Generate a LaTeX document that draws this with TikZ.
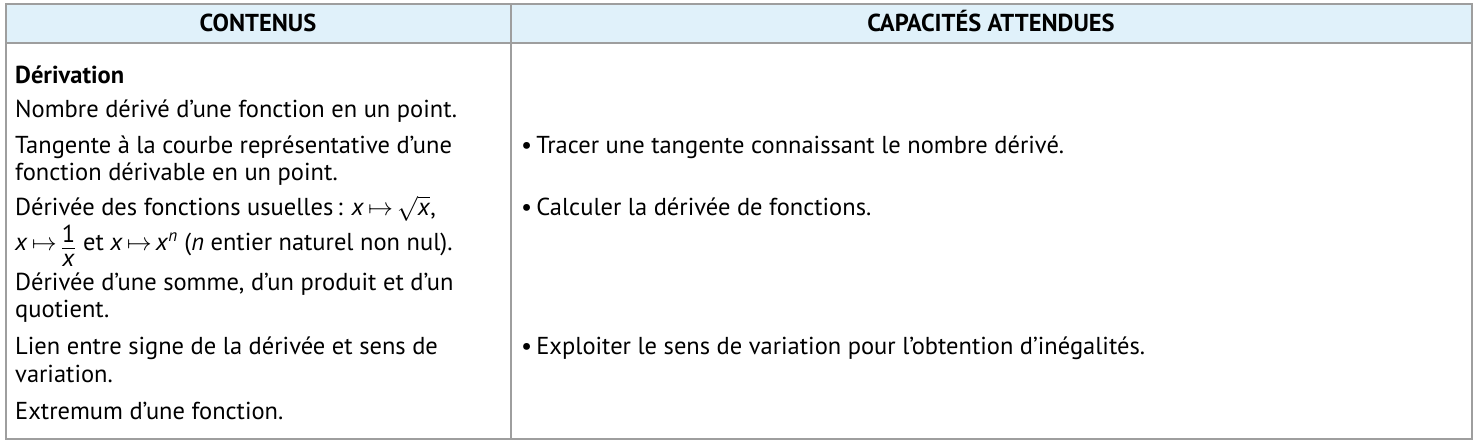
\documentclass[tikz,border=0pt]{standalone}
\usepackage{fontspec}
\setmainfont{PT Sans}
\definecolor{rule}{RGB}{158,158,158}
\definecolor{headfill}{RGB}{224,241,250}
\newcommand{\txtsize}{\fontsize{24.5}{28}\selectfont}
\newcommand{\mx}{\textit{x}}
\newcommand{\onefrac}{\raisebox{-3pt}{$\textstyle\frac{\mbox{1}\rule[-5pt]{0pt}{5pt}}{\mbox{\mx}\rule{0pt}{18pt}}$}}
\begin{document}
\begin{tikzpicture}[x=1pt,y=-1pt,
  rulestyle/.style={draw=rule,line width=2pt},
  headtxt/.style={anchor=base,inner sep=0pt,font=\txtsize\bfseries},
  celltxt/.style={anchor=base west,inner sep=0pt,font=\txtsize}]
\useasboundingbox (0,0) rectangle (1481,446);
\fill[headfill] (6,4) rectangle (1472,43.5);
\draw[rulestyle] (6,4) rectangle (1472,439);
\draw[rulestyle] (6,43.5) -- (1472,43.5);
\draw[rulestyle] (510.7,4) -- (510.7,439);
\node[headtxt] (h1) at (258,32) {CONTENUS};
\node[headtxt] (h2) at (991,32) {CAPACITÉS ATTENDUES};
% left column
\node[celltxt,font=\txtsize\bfseries] (l1) at (15,84) {Dérivation};
\node[celltxt] (l2) at (15,118) {Nombre dérivé d'une fonction en un point.};
\node[celltxt] (l3) at (15,154) {Tangente à la courbe représentative d'une};
\node[celltxt] (l4) at (15,181) {fonction dérivable en un point.};
\node[celltxt] (l5) at (15,216) {Dérivée des fonctions usuelles\,: \mx\,$\mapsto$\,$\sqrt{\mbox{\mx}}$,};
\node[celltxt] (l6) at (15,251) {\mx\,$\mapsto$\,\onefrac{} et \mx\,$\mapsto$\,\mx\textsuperscript{\textit{n}} (\textit{n} entier naturel non nul).};
\node[celltxt] (l7) at (15,291) {Dérivée d'une somme, d'un produit et d'un};
\node[celltxt] (l8) at (15,318) {quotient.};
\node[celltxt] (l9) at (15,355) {Lien entre signe de la dérivée et sens de};
\node[celltxt] (l10) at (15,382) {variation.};
\node[celltxt] (l11) at (15,419) {Extremum d'une fonction.};
% right column
\node[celltxt] (r1) at (521,154) {\textbullet\,Tracer une tangente connaissant le nombre dérivé.};
\node[celltxt] (r2) at (521,216) {\textbullet\,Calculer la dérivée de fonctions.};
\node[celltxt] (r3) at (521,355) {\textbullet\,Exploiter le sens de variation pour l'obtention d'inégalités.};
\end{tikzpicture}
\end{document}
